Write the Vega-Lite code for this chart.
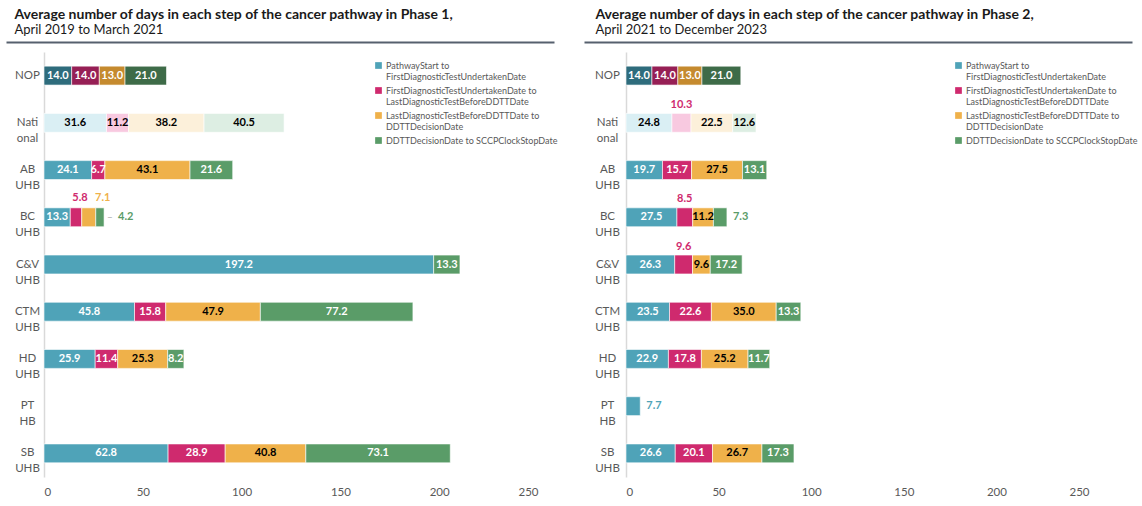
{
  "$schema": "https://vega.github.io/schema/vega-lite/v6.json",
  "padding": {"left": 14, "top": 8, "right": 0, "bottom": 0},
  "config": {
    "font": "Lato",
    "view": {"stroke": null},
    "title": {"font": "Lato", "subtitleFont": "Lato"}
  },
  "datasets": {
    "rows": [
      {"phase": 1, "org": "NOP", "step": 1, "days": 14.0},
      {"phase": 1, "org": "NOP", "step": 2, "days": 14.0},
      {"phase": 1, "org": "NOP", "step": 3, "days": 13.0},
      {"phase": 1, "org": "NOP", "step": 4, "days": 21.0},
      {"phase": 1, "org": "National", "step": 1, "days": 31.6},
      {"phase": 1, "org": "National", "step": 2, "days": 11.2},
      {"phase": 1, "org": "National", "step": 3, "days": 38.2},
      {"phase": 1, "org": "National", "step": 4, "days": 40.5},
      {"phase": 1, "org": "AB UHB", "step": 1, "days": 24.1},
      {"phase": 1, "org": "AB UHB", "step": 2, "days": 6.7},
      {"phase": 1, "org": "AB UHB", "step": 3, "days": 43.1},
      {"phase": 1, "org": "AB UHB", "step": 4, "days": 21.6},
      {"phase": 1, "org": "BC UHB", "step": 1, "days": 13.3},
      {"phase": 1, "org": "BC UHB", "step": 2, "days": 5.8},
      {"phase": 1, "org": "BC UHB", "step": 3, "days": 7.1},
      {"phase": 1, "org": "BC UHB", "step": 4, "days": 4.2},
      {"phase": 1, "org": "C&V UHB", "step": 1, "days": 197.2},
      {"phase": 1, "org": "C&V UHB", "step": 4, "days": 13.3},
      {"phase": 1, "org": "CTM UHB", "step": 1, "days": 45.8},
      {"phase": 1, "org": "CTM UHB", "step": 2, "days": 15.8},
      {"phase": 1, "org": "CTM UHB", "step": 3, "days": 47.9},
      {"phase": 1, "org": "CTM UHB", "step": 4, "days": 77.2},
      {"phase": 1, "org": "HD UHB", "step": 1, "days": 25.9},
      {"phase": 1, "org": "HD UHB", "step": 2, "days": 11.4},
      {"phase": 1, "org": "HD UHB", "step": 3, "days": 25.3},
      {"phase": 1, "org": "HD UHB", "step": 4, "days": 8.2},
      {"phase": 1, "org": "SB UHB", "step": 1, "days": 62.8},
      {"phase": 1, "org": "SB UHB", "step": 2, "days": 28.9},
      {"phase": 1, "org": "SB UHB", "step": 3, "days": 40.8},
      {"phase": 1, "org": "SB UHB", "step": 4, "days": 73.1},
      {"phase": 2, "org": "NOP", "step": 1, "days": 14.0},
      {"phase": 2, "org": "NOP", "step": 2, "days": 14.0},
      {"phase": 2, "org": "NOP", "step": 3, "days": 13.0},
      {"phase": 2, "org": "NOP", "step": 4, "days": 21.0},
      {"phase": 2, "org": "National", "step": 1, "days": 24.8},
      {"phase": 2, "org": "National", "step": 2, "days": 10.3},
      {"phase": 2, "org": "National", "step": 3, "days": 22.5},
      {"phase": 2, "org": "National", "step": 4, "days": 12.6},
      {"phase": 2, "org": "AB UHB", "step": 1, "days": 19.7},
      {"phase": 2, "org": "AB UHB", "step": 2, "days": 15.7},
      {"phase": 2, "org": "AB UHB", "step": 3, "days": 27.5},
      {"phase": 2, "org": "AB UHB", "step": 4, "days": 13.1},
      {"phase": 2, "org": "BC UHB", "step": 1, "days": 27.5},
      {"phase": 2, "org": "BC UHB", "step": 2, "days": 8.5},
      {"phase": 2, "org": "BC UHB", "step": 3, "days": 11.2},
      {"phase": 2, "org": "BC UHB", "step": 4, "days": 7.3},
      {"phase": 2, "org": "C&V UHB", "step": 1, "days": 26.3},
      {"phase": 2, "org": "C&V UHB", "step": 2, "days": 9.6},
      {"phase": 2, "org": "C&V UHB", "step": 3, "days": 9.6},
      {"phase": 2, "org": "C&V UHB", "step": 4, "days": 17.2},
      {"phase": 2, "org": "CTM UHB", "step": 1, "days": 23.5},
      {"phase": 2, "org": "CTM UHB", "step": 2, "days": 22.6},
      {"phase": 2, "org": "CTM UHB", "step": 3, "days": 35.0},
      {"phase": 2, "org": "CTM UHB", "step": 4, "days": 13.3},
      {"phase": 2, "org": "HD UHB", "step": 1, "days": 22.9},
      {"phase": 2, "org": "HD UHB", "step": 2, "days": 17.8},
      {"phase": 2, "org": "HD UHB", "step": 3, "days": 25.2},
      {"phase": 2, "org": "HD UHB", "step": 4, "days": 11.7},
      {"phase": 2, "org": "PT HB", "step": 1, "days": 7.7},
      {"phase": 2, "org": "SB UHB", "step": 1, "days": 26.6},
      {"phase": 2, "org": "SB UHB", "step": 2, "days": 20.1},
      {"phase": 2, "org": "SB UHB", "step": 3, "days": 26.7},
      {"phase": 2, "org": "SB UHB", "step": 4, "days": 17.3}
    ]
  },
  "bounds": "flush",
  "spacing": 88,
  "resolve": {"scale": {"color": "independent"}, "legend": {"color": "independent"}},
  "hconcat": [
    {
      "title": {"text": "Average number of days in each step of the cancer pathway in Phase 1,", "subtitle": "April 2019 to March 2021", "anchor": "start", "frame": "bounds", "dx": 0, "fontSize": 14, "fontWeight": "bold", "subtitleFontSize": 13, "color": "#1a1a1a", "subtitleColor": "#1a1a1a", "subtitlePadding": 2, "offset": 5},
      "width": 494,
      "height": 425,
      "layer": [
        {
          "data": {"name": "rows"},
          "transform": [
            {"filter": "datum.phase == 1"},
            {"calculate": "(datum.org == 'NOP' ? 'N' : datum.org == 'National' ? 'L' : 'B') + datum.step", "as": "key"},
            {"stack": "days", "groupby": ["org"], "sort": [{"field": "step", "order": "ascending"}], "as": ["x0", "x1"]},
            {"calculate": "(datum.x0 + datum.x1) / 2", "as": "mid"},
            {"calculate": "datum.org == 'BC UHB' && datum.step == 2 ? 'aboveA' : datum.org == 'BC UHB' && datum.step == 3 ? 'aboveB' : datum.org == 'BC UHB' && datum.step == 4 ? 'right' : 'inside'", "as": "pos"}
          ],
          "encoding": {
            "y": {"field": "org", "type": "nominal", "title": null,
              "scale": {"domain": ["NOP", "National", "AB UHB", "BC UHB", "C&V UHB", "CTM UHB", "HD UHB", "PT HB", "SB UHB"], "paddingInner": 0.6, "paddingOuter": 0.3},
              "axis": {"ticks": false, "domainColor": "#d9d9d9", "domainWidth": 1.5, "labelAlign": "center", "labelPadding": 17, "labelFontSize": 11.5, "labelColor": "#595959", "labelLineHeight": 16, "labelExpr": "datum.label == 'National' ? ['Nati', 'onal'] : split(datum.label, ' ')"}}
          },
          "layer": [
            {
              "mark": {"type": "bar", "stroke": "#ffffff", "strokeWidth": 0.6},
              "encoding": {
                "x": {"field": "x0", "type": "quantitative", "title": null,
                  "scale": {"domain": [0, 250], "nice": false},
                  "axis": {"values": [0, 50, 100, 150, 200, 250], "ticks": false, "domain": false, "grid": false, "labelPadding": 9, "labelFontSize": 11.5, "labelColor": "#595959"}},
                "x2": {"field": "x1"},
                "color": {"field": "key", "type": "nominal",
                  "scale": {"domain": ["B1", "B2", "B3", "B4", "N1", "N2", "N3", "N4", "L1", "L2", "L3", "L4"],
                    "range": ["#4fa3b8", "#cf2a6e", "#efb14a", "#5a9c68", "#2e6c7c", "#961f55", "#c58a2e", "#3e6b48", "#daeff4", "#f8c9e0", "#fcf0da", "#ddeee3"]},
                  "legend": {"orient": "none", "legendX": 330, "legendY": 9, "padding": 0, "title": null, "values": ["B1", "B2", "B3", "B4"],
                    "symbolType": "square", "symbolSize": 45, "symbolStrokeWidth": 0, "labelFontSize": 9, "labelColor": "#595959", "labelLimit": 400, "labelOffset": 3, "rowPadding": 4, "labelLineHeight": 12,
                    "labelExpr": "datum.value == 'B1' ? ['PathwayStart to', 'FirstDiagnosticTestUndertakenDate'] : datum.value == 'B2' ? ['FirstDiagnosticTestUndertakenDate to', 'LastDiagnosticTestBeforeDDTTDate'] : datum.value == 'B3' ? ['LastDiagnosticTestBeforeDDTTDate to', 'DDTTDecisionDate'] : 'DDTTDecisionDate to SCCPClockStopDate'"}}
              }
            },
            {
              "transform": [{"filter": "datum.pos == 'inside'"}],
              "mark": {"type": "text", "fontSize": 11, "fontWeight": "bold", "align": "center", "baseline": "middle"},
              "encoding": {
                "x": {"field": "mid", "type": "quantitative"},
                "text": {"field": "days", "type": "quantitative", "format": ".1f"},
                "color": {"condition": {"test": "datum.org == 'National' || (datum.org != 'NOP' && datum.step == 3)", "value": "#000000"}, "value": "#ffffff"}
              }
            },
            {
              "transform": [{"filter": "datum.pos == 'aboveA'"}],
              "mark": {"type": "text", "fontSize": 11, "fontWeight": "bold", "align": "center", "baseline": "middle", "dy": -19, "dx": 4, "color": "#cf2a6e"},
              "encoding": {
                "x": {"field": "mid", "type": "quantitative"},
                "text": {"field": "days", "type": "quantitative", "format": ".1f"}
              }
            },
            {
              "transform": [{"filter": "datum.pos == 'aboveB'"}],
              "mark": {"type": "text", "fontSize": 11, "fontWeight": "bold", "align": "center", "baseline": "middle", "dy": -19, "dx": 14, "color": "#efb14a"},
              "encoding": {
                "x": {"field": "mid", "type": "quantitative"},
                "text": {"field": "days", "type": "quantitative", "format": ".1f"}
              }
            },
            {
              "transform": [{"filter": "datum.pos == 'right'"}],
              "mark": {"type": "text", "fontSize": 11, "fontWeight": "bold", "align": "left", "baseline": "middle", "dx": 14, "color": "#5a9c68"},
              "encoding": {
                "x": {"field": "x1", "type": "quantitative"},
                "text": {"field": "days", "type": "quantitative", "format": ".1f"}
              }
            },
            {
              "transform": [{"filter": "datum.pos == 'right'"}],
              "mark": {"type": "text", "fontSize": 10, "align": "left", "baseline": "middle", "dx": 3, "color": "#a6a6a6", "text": "–"},
              "encoding": {
                "x": {"field": "x1", "type": "quantitative"}
              }
            }
          ]
        },
        {
          "data": {"values": [{"v": 0.5}]},
          "mark": {"type": "point", "opacity": 0},
          "encoding": {
            "x": {"field": "v", "type": "quantitative", "title": null,
              "scale": {"domain": [0, 1], "range": [-38, 510], "nice": false, "zero": false},
              "axis": {"orient": "top", "offset": 10, "labels": false, "ticks": false, "grid": false, "domainColor": "#56606e", "domainWidth": 2}}
          }
        }
      ],
      "resolve": {"scale": {"x": "independent"}, "axis": {"x": "independent"}}
    },
    {
      "title": {"text": "Average number of days in each step of the cancer pathway in Phase 2,", "subtitle": "April 2021 to December 2023", "anchor": "start", "frame": "bounds", "dx": 1, "fontSize": 14, "fontWeight": "bold", "subtitleFontSize": 13, "color": "#1a1a1a", "subtitleColor": "#1a1a1a", "subtitlePadding": 2, "offset": 5},
      "width": 463,
      "height": 425,
      "layer": [
        {
          "data": {"name": "rows"},
          "transform": [
            {"filter": "datum.phase == 2"},
            {"calculate": "(datum.org == 'NOP' ? 'N' : datum.org == 'National' ? 'L' : 'B') + datum.step", "as": "key"},
            {"stack": "days", "groupby": ["org"], "sort": [{"field": "step", "order": "ascending"}], "as": ["x0", "x1"]},
            {"calculate": "(datum.x0 + datum.x1) / 2", "as": "mid"},
            {"calculate": "datum.step == 2 && indexof(['National', 'BC UHB', 'C&V UHB'], datum.org) >= 0 ? 'above' : (datum.org == 'BC UHB' && datum.step == 4) || datum.org == 'PT HB' ? 'right' : 'inside'", "as": "pos"}
          ],
          "encoding": {
            "y": {"field": "org", "type": "nominal", "title": null,
              "scale": {"domain": ["NOP", "National", "AB UHB", "BC UHB", "C&V UHB", "CTM UHB", "HD UHB", "PT HB", "SB UHB"], "paddingInner": 0.6, "paddingOuter": 0.3},
              "axis": {"ticks": false, "domainColor": "#d9d9d9", "domainWidth": 1.5, "labelAlign": "center", "labelPadding": 19, "labelFontSize": 11.5, "labelColor": "#595959", "labelLineHeight": 16, "labelExpr": "datum.label == 'National' ? ['Nati', 'onal'] : split(datum.label, ' ')"}}
          },
          "layer": [
            {
              "mark": {"type": "bar", "stroke": "#ffffff", "strokeWidth": 0.6},
              "encoding": {
                "x": {"field": "x0", "type": "quantitative", "title": null,
                  "scale": {"domain": [0, 250], "nice": false},
                  "axis": {"values": [0, 50, 100, 150, 200, 250], "ticks": false, "domain": false, "grid": false, "labelPadding": 9, "labelFontSize": 11.5, "labelColor": "#595959"}},
                "x2": {"field": "x1"},
                "color": {"field": "key", "type": "nominal",
                  "scale": {"domain": ["B1", "B2", "B3", "B4", "N1", "N2", "N3", "N4", "L1", "L2", "L3", "L4"],
                    "range": ["#4fa3b8", "#cf2a6e", "#efb14a", "#5a9c68", "#2e6c7c", "#961f55", "#c58a2e", "#3e6b48", "#daeff4", "#f8c9e0", "#fcf0da", "#ddeee3"]},
                  "legend": {"orient": "none", "legendX": 328, "legendY": 9, "padding": 0, "title": null, "values": ["B1", "B2", "B3", "B4"],
                    "symbolType": "square", "symbolSize": 45, "symbolStrokeWidth": 0, "labelFontSize": 9, "labelColor": "#595959", "labelLimit": 400, "labelOffset": 3, "rowPadding": 4, "labelLineHeight": 12,
                    "labelExpr": "datum.value == 'B1' ? ['PathwayStart to', 'FirstDiagnosticTestUndertakenDate'] : datum.value == 'B2' ? ['FirstDiagnosticTestUndertakenDate to', 'LastDiagnosticTestBeforeDDTTDate'] : datum.value == 'B3' ? ['LastDiagnosticTestBeforeDDTTDate to', 'DDTTDecisionDate'] : 'DDTTDecisionDate to SCCPClockStopDate'"}}
              }
            },
            {
              "transform": [{"filter": "datum.pos == 'inside'"}],
              "mark": {"type": "text", "fontSize": 11, "fontWeight": "bold", "align": "center", "baseline": "middle"},
              "encoding": {
                "x": {"field": "mid", "type": "quantitative"},
                "text": {"field": "days", "type": "quantitative", "format": ".1f"},
                "color": {"condition": {"test": "datum.org == 'National' || (datum.org != 'NOP' && datum.step == 3)", "value": "#000000"}, "value": "#ffffff"}
              }
            },
            {
              "transform": [{"filter": "datum.pos == 'above'"}],
              "mark": {"type": "text", "fontSize": 11, "fontWeight": "bold", "align": "center", "baseline": "middle", "dy": -18, "color": "#cf2a6e"},
              "encoding": {
                "x": {"field": "mid", "type": "quantitative"},
                "text": {"field": "days", "type": "quantitative", "format": ".1f"}
              }
            },
            {
              "transform": [{"filter": "datum.pos == 'right'"}],
              "mark": {"type": "text", "fontSize": 11, "fontWeight": "bold", "align": "left", "baseline": "middle", "dx": 6},
              "encoding": {
                "x": {"field": "x1", "type": "quantitative"},
                "text": {"field": "days", "type": "quantitative", "format": ".1f"},
                "color": {"condition": {"test": "datum.step == 1", "value": "#4fa3b8"}, "value": "#5a9c68"}
              }
            }
          ]
        },
        {
          "data": {"values": [{"v": 0.5}]},
          "mark": {"type": "point", "opacity": 0},
          "encoding": {
            "x": {"field": "v", "type": "quantitative", "title": null,
              "scale": {"domain": [0, 1], "range": [-42, 506], "nice": false, "zero": false},
              "axis": {"orient": "top", "offset": 10, "labels": false, "ticks": false, "grid": false, "domainColor": "#56606e", "domainWidth": 2}}
          }
        }
      ],
      "resolve": {"scale": {"x": "independent"}, "axis": {"x": "independent"}}
    }
  ]
}
